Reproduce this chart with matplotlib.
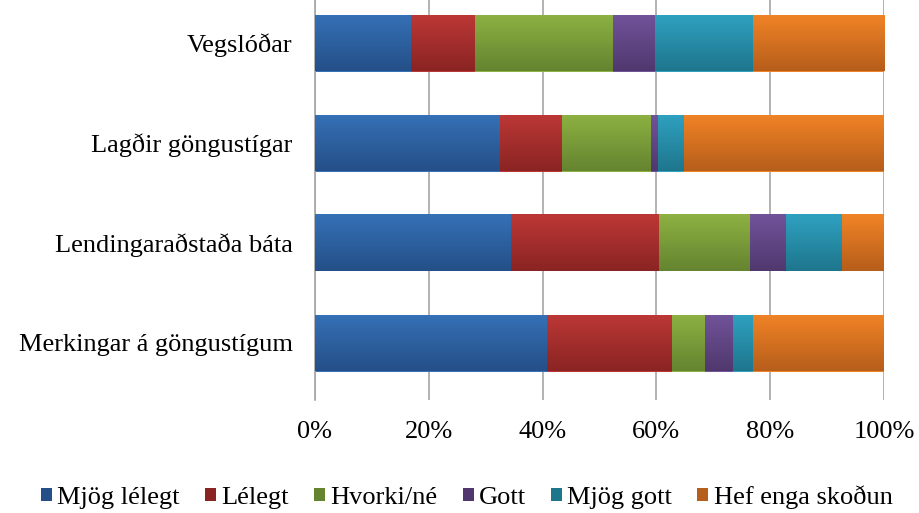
import numpy as np
import matplotlib
matplotlib.use("Agg")
import matplotlib.pyplot as plt
from matplotlib.colors import LinearSegmentedColormap
from matplotlib.patches import Patch

plt.rcParams['font.family'] = ['Liberation Serif', 'DejaVu Serif']

# data (percent), bottom to top
categories = ["Merkingar á göngustígum", "Lendingaraðstaða báta",
              "Lagðir göngustígar", "Vegslóðar"]
series = ["Mjög lélegt", "Lélegt", "Hvorki/né", "Gott", "Mjög gott", "Hef enga skoðun"]
mjog_lelegt = [40.8, 34.5, 32.6, 16.9]
lelegt = [21.9, 25.9, 10.8, 11.2]
hvorki = [5.8, 16.0, 15.7, 24.3]
gott = [5.0, 6.3, 1.1, 7.4]
mjog_gott = [3.5, 10.0, 4.7, 17.1]
enga_skodun = [23.0, 7.3, 35.1, 23.1]
values = [mjog_lelegt, lelegt, hvorki, gott, mjog_gott, enga_skodun]

top_colors = ["#3571B6", "#BC3836", "#8DB142", "#71539A", "#2FA1C0", "#F18326"]
bot_colors = ["#254F88", "#8A2423", "#658430", "#50386E", "#1E768D", "#B65E1B"]

fig = plt.figure(figsize=(9.19, 5.13), dpi=100)
ax = fig.add_axes([315 / 919, 1 - 400 / 513, 569 / 919, 400 / 513])

y = np.arange(len(categories))
left = np.zeros(len(categories))
grad = np.linspace(0, 1, 64).reshape(-1, 1)
for i, name in enumerate(series):
    vals = np.array(values[i])
    bars = ax.barh(y, vals, left=left, height=0.57, color=top_colors[i],
                   zorder=2, linewidth=0)
    cmap = LinearSegmentedColormap.from_list("g%d" % i, [top_colors[i], bot_colors[i]])
    for b in bars:
        x0, y0 = b.get_x(), b.get_y()
        w, h = b.get_width(), b.get_height()
        im = ax.imshow(grad, cmap=cmap, aspect="auto", origin="upper",
                       extent=(x0, x0 + w, y0, y0 + h), zorder=3)
        im.set_clip_path(b)
    left += vals

ax.set_xlim(0, 100)
ax.set_ylim(-0.57, 3.43)
ax.set_xticks(np.arange(0, 101, 20))
ax.set_xticklabels(["%d%%" % v for v in range(0, 101, 20)], fontsize=19)
ax.set_yticks(y)
ax.set_yticklabels(categories, fontsize=19)
ax.tick_params(axis="x", length=0, pad=15)
ax.tick_params(axis="y", length=0, pad=16)
ax.grid(axis="x", color="#A6A6A6", linewidth=1.2, zorder=0)
for s in ["top", "right", "bottom"]:
    ax.spines[s].set_visible(False)
ax.spines["left"].set_color("#A6A6A6")
ax.spines["left"].set_linewidth(1.2)

handles = [Patch(facecolor=c, label=n) for c, n in zip(bot_colors, series)]
fig.legend(handles=handles, loc="center", bbox_to_anchor=(0.508, 1 - 497 / 513),
           ncol=6, frameon=False, fontsize=19, handlelength=0.42, handleheight=0.42,
           handletextpad=0.2, columnspacing=0.95)

fig.savefig("out.png", dpi=100)
